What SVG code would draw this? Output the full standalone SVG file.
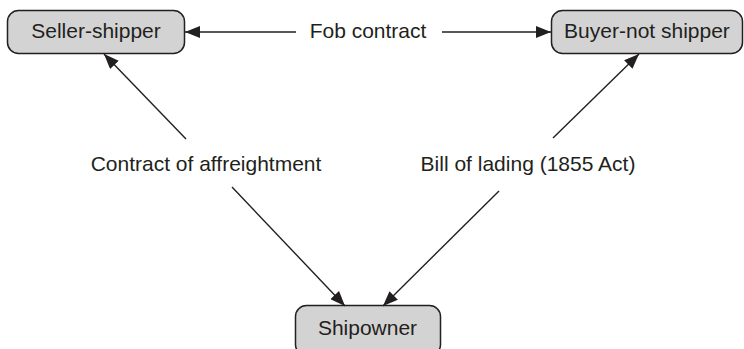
<svg xmlns="http://www.w3.org/2000/svg" width="744" height="349" viewBox="0 0 744 349">
<style>
.box{fill:#d3d3d3;stroke:#231f20;stroke-width:1.5}
.t{font-family:"Liberation Sans",Arial,sans-serif;font-size:21px;fill:#231f20;text-anchor:middle}
.c{stroke:#231f20;stroke-width:1.4;fill:none;marker-end:url(#ah)}
</style>
<defs>
<marker id="ah" markerUnits="userSpaceOnUse" markerWidth="16" markerHeight="12" refX="15" refY="6" orient="auto">
<path d="M0,0 L15,6 L0,12 z" fill="#231f20"/>
</marker>
</defs>
<rect width="744" height="349" fill="#fff"/>
<g id="seller">
<rect class="box" x="7.5" y="10.5" width="177" height="43" rx="11"/>
<text class="t" x="96" y="38">Seller-shipper</text>
</g>
<g id="buyer">
<rect class="box" x="551.5" y="10.5" width="191" height="43" rx="11"/>
<text class="t" x="647" y="38">Buyer-not shipper</text>
</g>
<g id="shipowner">
<rect class="box" x="295.5" y="305.5" width="145" height="50" rx="11"/>
<text class="t" x="367.5" y="335">Shipowner</text>
</g>
<g id="connectors">
<line class="c" x1="296" y1="32" x2="185" y2="32"/>
<line class="c" x1="442" y1="32" x2="551" y2="32"/>
<line class="c" x1="186" y1="139" x2="104" y2="54"/>
<line class="c" x1="553" y1="138" x2="639" y2="54"/>
<line class="c" x1="232" y1="187" x2="345" y2="306"/>
<line class="c" x1="499" y1="191" x2="383" y2="306"/>
</g>
<g id="labels">
<text class="t" x="368" y="38">Fob contract</text>
<text class="t" x="206" y="171">Contract of affreightment</text>
<text class="t" x="528" y="171">Bill of lading (1855 Act)</text>
</g>
</svg>
